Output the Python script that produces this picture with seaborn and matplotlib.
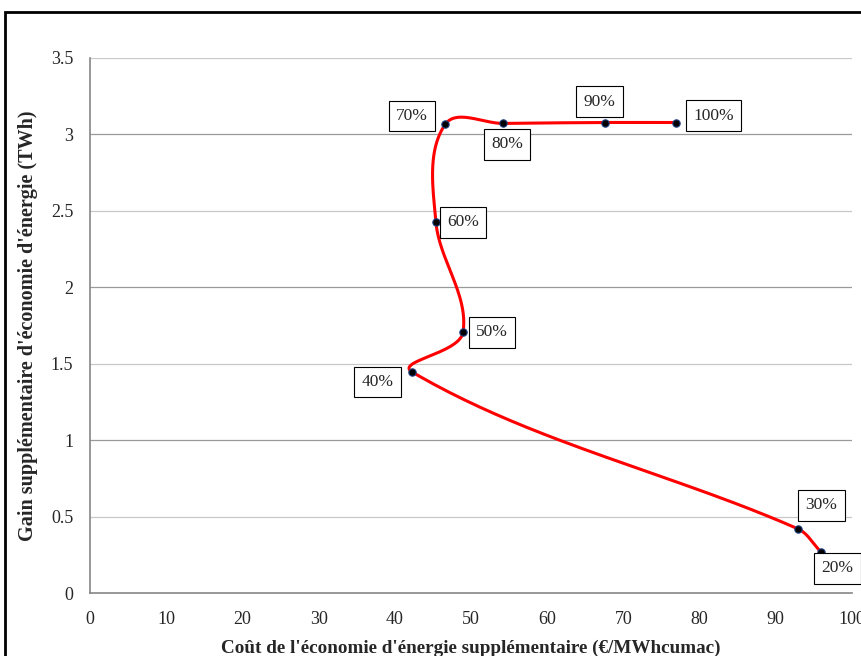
import numpy as np
import pandas as pd
import matplotlib
matplotlib.use('Agg')
import matplotlib.pyplot as plt
import seaborn as sns
from matplotlib.patches import Rectangle

# data
labels = ['20%', '30%', '40%', '50%', '60%', '70%', '80%', '90%', '100%']
cost = [95.9, 92.9, 42.3, 48.95, 45.4, 46.6, 54.2, 67.6, 76.9]
gain = [0.27, 0.42, 1.445, 1.705, 2.425, 3.065, 3.072, 3.078, 3.078]

# label offsets (points) relative to each marker
offsets = [(12, -12), (17, 17), (-25, -7), (21, 0), (19.5, 0), (-24, 6), (3, -15), (-4, 15), (27, 5)]

sns.set_style('white')
plt.rcParams['font.family'] = ['Liberation Serif', 'DejaVu Serif']


def smooth_curve(x, y, sx, sy, n=50):
    # Excel-like smoothing: Bezier with tangents scaled to segment length, in screen space
    P = np.column_stack([np.array(x) * sx, np.array(y) * sy])
    P = np.vstack([P[0], P, P[-1]])
    out = []
    for i in range(1, len(P) - 2):
        p0, p1, p2, p3 = P[i - 1], P[i], P[i + 1], P[i + 2]
        L = np.linalg.norm(p2 - p1)
        t1 = p2 - p0
        t2 = p3 - p1
        c1 = p1 + t1 / np.linalg.norm(t1) * L / 3
        c2 = p2 - t2 / np.linalg.norm(t2) * L / 3
        t = np.linspace(0, 1, n)[:, None]
        seg = (1 - t) ** 3 * p1 + 3 * (1 - t) ** 2 * t * c1 + 3 * (1 - t) * t ** 2 * c2 + t ** 3 * p2
        out.append(seg if i == 1 else seg[1:])
    out = np.vstack(out)
    return out[:, 0] / sx, out[:, 1] / sy


fig = plt.figure(figsize=(8.62, 6.56), dpi=100)
ax = fig.add_axes([0.1044, 0.096, 0.884, 0.8156])

sx = 762 / 100
sy = 535 / 3.5
cx, cy = smooth_curve(cost, gain, sx, sy)
curve = pd.DataFrame({'x': cx, 'y': cy})
sns.lineplot(data=curve, x='x', y='y', sort=False, estimator=None, color='#ff0000', linewidth=2.2, ax=ax, zorder=3)

pts = pd.DataFrame({'cost': cost, 'gain': gain})
sns.scatterplot(data=pts, x='cost', y='gain', color='black', edgecolor='#1f3f7f', s=28, linewidth=0.8, ax=ax, zorder=4)

for lab, x, y, (dx, dy) in zip(labels, cost, gain, offsets):
    ax.annotate(lab, (x, y), xytext=(dx, dy), textcoords='offset points', ha='center', va='center',
                fontsize=12.5, zorder=5,
                bbox=dict(boxstyle='square,pad=0.42', fc='white', ec='black', lw=0.8))

ax.set_xlim(0, 100)
ax.set_ylim(0, 3.5)
ax.set_xticks(np.arange(0, 101, 10))
ax.set_yticks(np.arange(0, 3.51, 0.5))
ax.set_yticklabels(['0', '0.5', '1', '1.5', '2', '2.5', '3', '3.5'])
for v in np.arange(0.5, 3.51, 0.5):
    ax.axhline(v, color='#9a9a9a' if v % 1 == 0 else '#c8c8c8', lw=0.9, zorder=1)

for s in ['top', 'right']:
    ax.spines[s].set_visible(False)
for s in ['left', 'bottom']:
    ax.spines[s].set_color('#868686')
    ax.spines[s].set_linewidth(1.2)
ax.tick_params(axis='both', direction='out', length=4, width=0.9, color='#868686', labelsize=13, pad=8)
ax.tick_params(axis='x', pad=9)

ax.set_xlabel("Coût de l'économie d'énergie supplémentaire (€/MWhcumac)", fontsize=13.8, fontweight='bold', labelpad=8)
ax.set_ylabel("Gain supplémentaire d'économie d'énergie (TWh)", fontsize=14.5, fontweight='bold', labelpad=9)

# chart frame
fig.patches.append(Rectangle((5 / 862, -0.05), 1.2, 1 - 12 / 656 + 0.05, transform=fig.transFigure,
                             fill=False, ec='black', lw=2, zorder=0))

plt.savefig('out.png', dpi=100)
plt.close()
